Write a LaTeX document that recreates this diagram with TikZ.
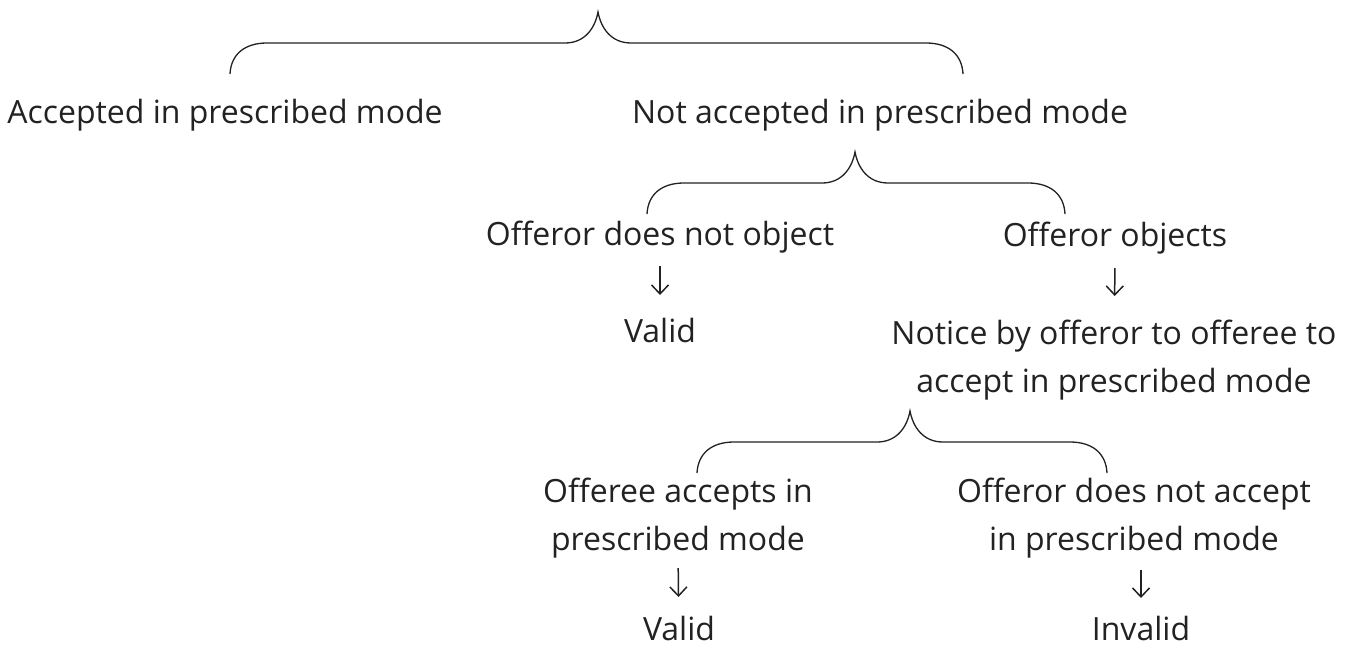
\documentclass[tikz,border=0pt]{standalone}
\usepackage{fontspec}
\setmainfont{Open Sans}
\usetikzlibrary{arrows.meta,calc}
\definecolor{ink}{RGB}{34,34,34}

\begin{document}
\begin{tikzpicture}[
		x = 1pt, y = -1pt, % pixel units, y downwards
		every node/.style = {inner sep=0pt, text=ink},
		lbl/.style = {anchor=base, align=center, font=\fontsize{32}{48}\selectfont},
		brace/.style = {draw=ink, line width=1.3pt},
		down/.style = {-{Straight Barb[length=9pt,width=17pt]}, draw=ink, line width=1.5pt}
		]
		\useasboundingbox (0,0) rectangle (1354,648);
		
		% texts (multi-line nodes sit on their last line)
		\node[lbl] (accP) at (225,123) {Accepted in prescribed mode};
		\node[lbl] (notP) at (880,123) {Not accepted in prescribed mode};
		\node[lbl] (objL) at (660,245) {Offeror does not object};
		\node[lbl] (objR) at (1115,246) {Offeror objects};
		\node[lbl] (validL) at (660,342) {Valid};
		\node[lbl] (notice) at (1114,392) {Notice by offeror to offeree to\\accept in prescribed mode};
		\node[lbl] (acc) at (678,550) {Offeree accepts in\\prescribed mode};
		\node[lbl] (rej) at (1134,550) {Offeror does not accept\\in prescribed mode};
		\node[lbl] (validB) at (679,640) {Valid};
		\node[lbl] (invalid) at (1141,640) {Invalid};
		
		% braces
		\coordinate (b1l) at (230,74); \coordinate (b1t) at (598,12); \coordinate (b1r) at (963,74);
		\coordinate (b2l) at (647,214); \coordinate (b2t) at (855,152); \coordinate (b2r) at (1065,214);
		\coordinate (b3l) at (697,473); \coordinate (b3t) at (910,411); \coordinate (b3r) at (1107,473);
		
		\foreach \l/\t/\r in {b1l/b1t/b1r, b2l/b2t/b2r, b3l/b3t/b3r}
		\draw[brace] (\l) .. controls +(1,-20) and +(-22,0) .. ($(\l)+(37,-31)$)
		-- ($(\t)+(-33,31)$) .. controls +(20,0) and +(-3,16) .. (\t)
		.. controls +(3,16) and +(-20,0) .. ($(\t)+(33,31)$)
		-- ($(\r)+(-37,-31)$) .. controls +(22,0) and +(-1,-20) .. (\r);
		
		% arrows
		\draw[down, shorten <=21pt, shorten >=47pt] (objL.base) -- (validL.base);
		\draw[down, shorten <=22pt, shorten >=96pt] (objR.base) -- (notice.base);
		\draw[down, shorten <=18pt, shorten >=43pt] (acc.base) -- (validB.base);
		\draw[down, shorten <=20pt, shorten >=42pt] (rej.base -| invalid.base) -- (invalid.base);
		
	\end{tikzpicture}
\end{document}
